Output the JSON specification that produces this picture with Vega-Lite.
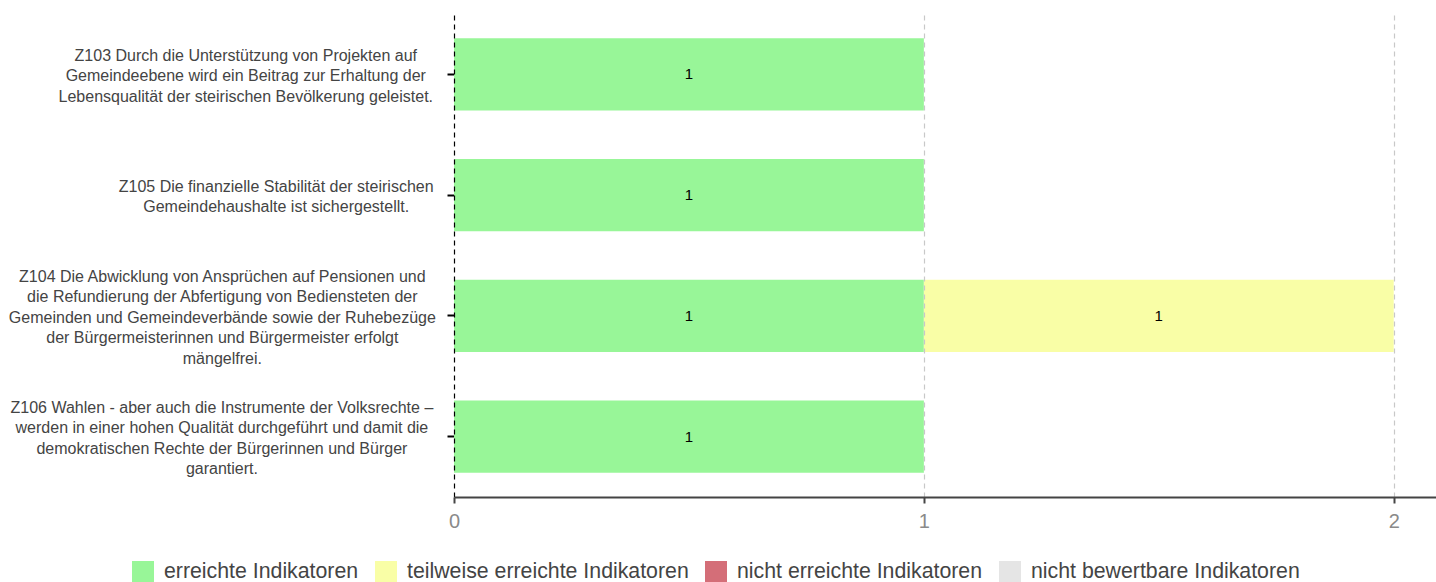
{
  "$schema": "https://vega.github.io/schema/vega-lite/v6.json",
  "width": 982,
  "height": 483,
  "autosize": {"type": "none"},
  "padding": {"left": 454, "top": 14, "right": 0, "bottom": 85},
  "background": "white",
  "config": {"view": {"stroke": null}, "font": "Liberation Sans"},
  "data": {
    "values": [
      {"ziel": "Z103 Durch die Unterstützung von Projekten auf\nGemeindeebene wird ein Beitrag zur Erhaltung der\nLebensqualität der steirischen Bevölkerung geleistet.", "kat": "erreichte Indikatoren", "ord": 1, "value": 1},
      {"ziel": "Z103 Durch die Unterstützung von Projekten auf\nGemeindeebene wird ein Beitrag zur Erhaltung der\nLebensqualität der steirischen Bevölkerung geleistet.", "kat": "teilweise erreichte Indikatoren", "ord": 2, "value": 0},
      {"ziel": "Z103 Durch die Unterstützung von Projekten auf\nGemeindeebene wird ein Beitrag zur Erhaltung der\nLebensqualität der steirischen Bevölkerung geleistet.", "kat": "nicht erreichte Indikatoren", "ord": 3, "value": 0},
      {"ziel": "Z103 Durch die Unterstützung von Projekten auf\nGemeindeebene wird ein Beitrag zur Erhaltung der\nLebensqualität der steirischen Bevölkerung geleistet.", "kat": "nicht bewertbare Indikatoren", "ord": 4, "value": 0},
      {"ziel": "Z105 Die finanzielle Stabilität der steirischen\nGemeindehaushalte ist sichergestellt.", "kat": "erreichte Indikatoren", "ord": 1, "value": 1},
      {"ziel": "Z105 Die finanzielle Stabilität der steirischen\nGemeindehaushalte ist sichergestellt.", "kat": "teilweise erreichte Indikatoren", "ord": 2, "value": 0},
      {"ziel": "Z105 Die finanzielle Stabilität der steirischen\nGemeindehaushalte ist sichergestellt.", "kat": "nicht erreichte Indikatoren", "ord": 3, "value": 0},
      {"ziel": "Z105 Die finanzielle Stabilität der steirischen\nGemeindehaushalte ist sichergestellt.", "kat": "nicht bewertbare Indikatoren", "ord": 4, "value": 0},
      {"ziel": "Z104 Die Abwicklung von Ansprüchen auf Pensionen und\ndie Refundierung der Abfertigung von Bediensteten der\nGemeinden und Gemeindeverbände sowie der Ruhebezüge\nder Bürgermeisterinnen und Bürgermeister erfolgt\nmängelfrei.", "kat": "erreichte Indikatoren", "ord": 1, "value": 1},
      {"ziel": "Z104 Die Abwicklung von Ansprüchen auf Pensionen und\ndie Refundierung der Abfertigung von Bediensteten der\nGemeinden und Gemeindeverbände sowie der Ruhebezüge\nder Bürgermeisterinnen und Bürgermeister erfolgt\nmängelfrei.", "kat": "teilweise erreichte Indikatoren", "ord": 2, "value": 1},
      {"ziel": "Z104 Die Abwicklung von Ansprüchen auf Pensionen und\ndie Refundierung der Abfertigung von Bediensteten der\nGemeinden und Gemeindeverbände sowie der Ruhebezüge\nder Bürgermeisterinnen und Bürgermeister erfolgt\nmängelfrei.", "kat": "nicht erreichte Indikatoren", "ord": 3, "value": 0},
      {"ziel": "Z104 Die Abwicklung von Ansprüchen auf Pensionen und\ndie Refundierung der Abfertigung von Bediensteten der\nGemeinden und Gemeindeverbände sowie der Ruhebezüge\nder Bürgermeisterinnen und Bürgermeister erfolgt\nmängelfrei.", "kat": "nicht bewertbare Indikatoren", "ord": 4, "value": 0},
      {"ziel": "Z106 Wahlen - aber auch die Instrumente der Volksrechte –\nwerden in einer hohen Qualität durchgeführt und damit die\ndemokratischen Rechte der Bürgerinnen und Bürger\ngarantiert.", "kat": "erreichte Indikatoren", "ord": 1, "value": 1},
      {"ziel": "Z106 Wahlen - aber auch die Instrumente der Volksrechte –\nwerden in einer hohen Qualität durchgeführt und damit die\ndemokratischen Rechte der Bürgerinnen und Bürger\ngarantiert.", "kat": "teilweise erreichte Indikatoren", "ord": 2, "value": 0},
      {"ziel": "Z106 Wahlen - aber auch die Instrumente der Volksrechte –\nwerden in einer hohen Qualität durchgeführt und damit die\ndemokratischen Rechte der Bürgerinnen und Bürger\ngarantiert.", "kat": "nicht erreichte Indikatoren", "ord": 3, "value": 0},
      {"ziel": "Z106 Wahlen - aber auch die Instrumente der Volksrechte –\nwerden in einer hohen Qualität durchgeführt und damit die\ndemokratischen Rechte der Bürgerinnen und Bürger\ngarantiert.", "kat": "nicht bewertbare Indikatoren", "ord": 4, "value": 0}
    ]
  },
  "transform": [
    {"stack": "value", "groupby": ["ziel"], "sort": [{"field": "ord"}], "as": ["v0", "v1"]},
    {"calculate": "(datum.v0 + datum.v1) / 2", "as": "mid"}
  ],
  "encoding": {
    "y": {
      "field": "ziel",
      "type": "nominal",
      "sort": null,
      "scale": {"paddingInner": 0.4, "paddingOuter": 0.2},
      "axis": {
        "title": null,
        "domain": false,
        "grid": false,
        "ticks": true,
        "tickColor": "#000000",
        "tickWidth": 2,
        "tickSize": 7,
        "labelAlign": "center",
        "labelBaseline": "middle",
        "labelPadding": 13,
        "labelFontSize": 16,
        "labelColor": "#444444",
        "labelLineHeight": 20.5,
        "labelLimit": 2000,
        "labelExpr": "split(datum.label, '\\n')",
        "encoding": {
          "labels": {
            "dx": {"value": {"expr": "-0.008*max(556*length(split(datum.value,'\\n')[0]||'')-334*length(replace(split(datum.value,'\\n')[0]||'',regexp('[^ijl]','g'),''))-278*length(replace(split(datum.value,'\\n')[0]||'',regexp('[^ft .,I]','g'),''))-223*length(replace(split(datum.value,'\\n')[0]||'',regexp('[^r-]','g'),''))-56*length(replace(split(datum.value,'\\n')[0]||'',regexp('[^cksvxyz]','g'),''))+277*length(replace(split(datum.value,'\\n')[0]||'',regexp('[^mM]','g'),''))+166*length(replace(split(datum.value,'\\n')[0]||'',regexp('[^wW]','g'),''))+150*length(replace(split(datum.value,'\\n')[0]||'',regexp('[^A-HJ-Z]','g'),'')),556*length(split(datum.value,'\\n')[1]||'')-334*length(replace(split(datum.value,'\\n')[1]||'',regexp('[^ijl]','g'),''))-278*length(replace(split(datum.value,'\\n')[1]||'',regexp('[^ft .,I]','g'),''))-223*length(replace(split(datum.value,'\\n')[1]||'',regexp('[^r-]','g'),''))-56*length(replace(split(datum.value,'\\n')[1]||'',regexp('[^cksvxyz]','g'),''))+277*length(replace(split(datum.value,'\\n')[1]||'',regexp('[^mM]','g'),''))+166*length(replace(split(datum.value,'\\n')[1]||'',regexp('[^wW]','g'),''))+150*length(replace(split(datum.value,'\\n')[1]||'',regexp('[^A-HJ-Z]','g'),'')),556*length(split(datum.value,'\\n')[2]||'')-334*length(replace(split(datum.value,'\\n')[2]||'',regexp('[^ijl]','g'),''))-278*length(replace(split(datum.value,'\\n')[2]||'',regexp('[^ft .,I]','g'),''))-223*length(replace(split(datum.value,'\\n')[2]||'',regexp('[^r-]','g'),''))-56*length(replace(split(datum.value,'\\n')[2]||'',regexp('[^cksvxyz]','g'),''))+277*length(replace(split(datum.value,'\\n')[2]||'',regexp('[^mM]','g'),''))+166*length(replace(split(datum.value,'\\n')[2]||'',regexp('[^wW]','g'),''))+150*length(replace(split(datum.value,'\\n')[2]||'',regexp('[^A-HJ-Z]','g'),'')),556*length(split(datum.value,'\\n')[3]||'')-334*length(replace(split(datum.value,'\\n')[3]||'',regexp('[^ijl]','g'),''))-278*length(replace(split(datum.value,'\\n')[3]||'',regexp('[^ft .,I]','g'),''))-223*length(replace(split(datum.value,'\\n')[3]||'',regexp('[^r-]','g'),''))-56*length(replace(split(datum.value,'\\n')[3]||'',regexp('[^cksvxyz]','g'),''))+277*length(replace(split(datum.value,'\\n')[3]||'',regexp('[^mM]','g'),''))+166*length(replace(split(datum.value,'\\n')[3]||'',regexp('[^wW]','g'),''))+150*length(replace(split(datum.value,'\\n')[3]||'',regexp('[^A-HJ-Z]','g'),'')),556*length(split(datum.value,'\\n')[4]||'')-334*length(replace(split(datum.value,'\\n')[4]||'',regexp('[^ijl]','g'),''))-278*length(replace(split(datum.value,'\\n')[4]||'',regexp('[^ft .,I]','g'),''))-223*length(replace(split(datum.value,'\\n')[4]||'',regexp('[^r-]','g'),''))-56*length(replace(split(datum.value,'\\n')[4]||'',regexp('[^cksvxyz]','g'),''))+277*length(replace(split(datum.value,'\\n')[4]||'',regexp('[^mM]','g'),''))+166*length(replace(split(datum.value,'\\n')[4]||'',regexp('[^wW]','g'),''))+150*length(replace(split(datum.value,'\\n')[4]||'',regexp('[^A-HJ-Z]','g'),'')))"}},
            "dy": {"value": {"expr": "2-10.25*(length(split(datum.value,'\\n'))-1)"}}
          }
        }
      }
    }
  },
  "layer": [
    {
      "mark": {"type": "bar"},
      "encoding": {
        "x": {
          "field": "v0",
          "type": "quantitative",
          "scale": {"domain": [0, 2.09], "nice": false, "zero": true},
          "axis": {
            "title": null,
            "values": [0, 1, 2],
            "labelExpr": "datum.value",
            "labelFlush": false,
            "grid": true,
            "gridDash": [5, 4],
            "gridColor": {"condition": {"test": "datum.value === 0", "value": "#000000"}, "value": "#c8c8c8"},
            "gridWidth": 1.2,
            "domainColor": "#444444",
            "domainWidth": 2,
            "tickColor": "#444444",
            "tickWidth": 2,
            "tickSize": 6,
            "labelColor": "#8a8a8a",
            "labelFontSize": 20,
            "labelPadding": 8,
            "labelOverlap": false,
            "zindex": 1
          }
        },
        "x2": {"field": "v1"},
        "color": {
          "field": "kat",
          "type": "nominal",
          "scale": {
            "domain": ["erreichte Indikatoren", "teilweise erreichte Indikatoren", "nicht erreichte Indikatoren", "nicht bewertbare Indikatoren"],
            "range": ["#98F698", "#F9FEA6", "#D46E78", "#E5E5E5"]
          },
          "legend": {
            "orient": "none",
            "legendX": -322,
            "legendY": 547,
            "direction": "horizontal",
            "title": null,
            "symbolType": "square",
            "symbolSize": 484,
            "symbolStrokeWidth": 0,
            "symbolOpacity": 1,
            "labelFontSize": 21.3,
            "labelColor": "#444444",
            "labelOffset": 10,
            "columnPadding": 16,
            "labelLimit": 1000
          }
        }
      }
    },
    {
      "transform": [{"filter": "datum.value > 0"}],
      "mark": {"type": "text", "fontSize": 15, "color": "#000000", "baseline": "middle", "align": "center"},
      "encoding": {
        "x": {"field": "mid", "type": "quantitative", "title": null},
        "text": {"field": "value", "type": "quantitative"}
      }
    }
  ]
}
